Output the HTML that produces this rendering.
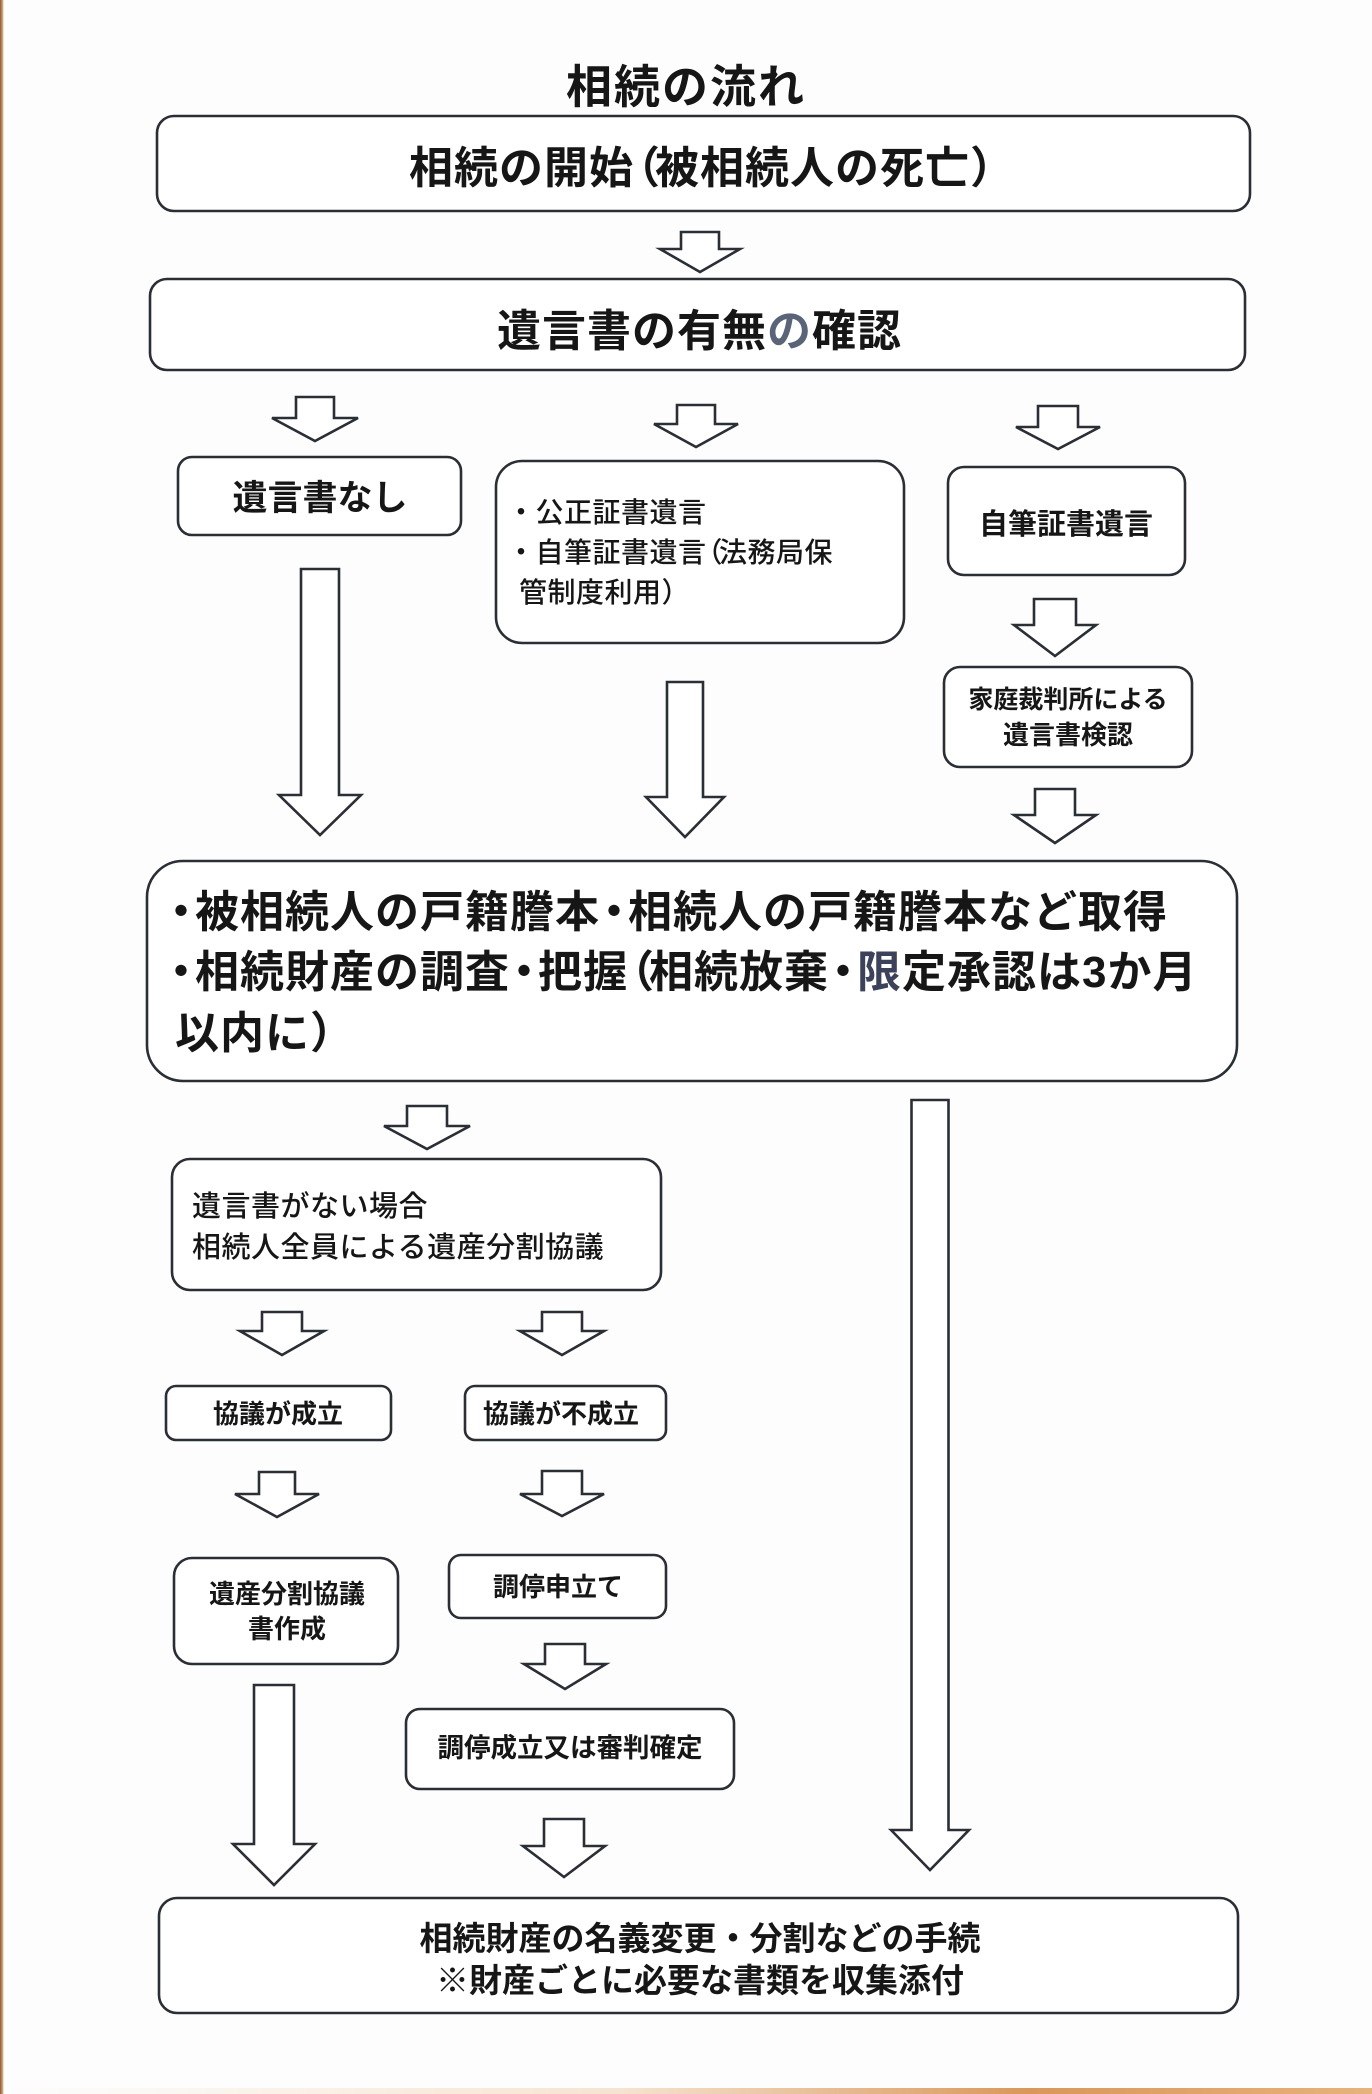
<!DOCTYPE html>
<html lang="ja">
<head>
<meta charset="utf-8">
<style>
  html,body{margin:0;padding:0;background:#fdfdfd;}
  body{width:1372px;height:2094px;position:relative;overflow:hidden;}
  svg{position:absolute;left:0;top:0;}
  .t{font-family:"Liberation Sans","Noto Sans CJK JP",sans-serif;fill:#161616;font-weight:700;}
  .m{font-weight:500;}
  .edgeL{position:absolute;left:0;top:0;width:4px;height:2094px;background:linear-gradient(to right,#8d5a32,#c89a70 60%,rgba(255,255,255,0));}
  .edgeB{position:absolute;left:0;top:2088px;width:1372px;height:6px;background:linear-gradient(to right,rgba(255,255,255,0) 0%,rgba(230,170,110,0.3) 45%,#d9975a 75%,#e7b27c 100%);}
</style>
</head>
<body>
<svg width="1372" height="2094" viewBox="0 0 1372 2094" xmlns="http://www.w3.org/2000/svg">
  <g fill="#ffffff" stroke="#2a2e35" stroke-width="2.6" stroke-linejoin="miter">
    <!-- boxes -->
    <rect x="157" y="116" width="1093" height="95" rx="17"/>
    <rect x="150" y="279" width="1095" height="91" rx="17"/>
    <rect x="178" y="457" width="283" height="78" rx="14"/>
    <rect x="496" y="461" width="408" height="182" rx="26"/>
    <rect x="948" y="467" width="237" height="108" rx="16"/>
    <rect x="944" y="667" width="248" height="100" rx="16"/>
    <rect x="147" y="861" width="1090" height="220" rx="36"/>
    <rect x="172" y="1159" width="489" height="131" rx="18"/>
    <rect x="166" y="1386" width="225" height="54" rx="10"/>
    <rect x="465" y="1386" width="201" height="54" rx="10"/>
    <rect x="174" y="1558" width="224" height="106" rx="18"/>
    <rect x="449" y="1555" width="217" height="63" rx="12"/>
    <rect x="406" y="1709" width="328" height="80" rx="14"/>
    <rect x="159" y="1898" width="1079" height="115" rx="18"/>
    <!-- arrows -->
    <polygon points="681,232 719,232 719,249 740,249 700,272 660,249 681,249"/>
    <polygon points="296,397 334,397 334,418 358,418 315,441 272,418 296,418"/>
    <polygon points="677,405 715,405 715,424 738,424 696,447 654,424 677,424"/>
    <polygon points="1038,406 1078,406 1078,427 1100,427 1058,449 1016,427 1038,427"/>
    <polygon points="1034,599 1076,599 1076,625 1096,625 1055,656 1014,625 1034,625"/>
    <polygon points="301,569 339,569 339,795 361,795 320,835 279,795 301,795"/>
    <polygon points="667,682 703,682 703,797 724,797 685,837 646,797 667,797"/>
    <polygon points="1035,789 1075,789 1075,815 1096,815 1055,843 1014,815 1035,815"/>
    <polygon points="407,1106 447,1106 447,1126 470,1126 427,1149 384,1126 407,1126"/>
    <polygon points="911.5,1100 948.5,1100 948.5,1830 969,1830 930,1870 891,1830 911.5,1830"/>
    <polygon points="262,1312 302,1312 302,1331 324,1331 282,1355 240,1331 262,1331"/>
    <polygon points="542,1312 582,1312 582,1331 604,1331 562,1355 520,1331 542,1331"/>
    <polygon points="259,1472 295,1472 295,1494 319,1494 277,1517 235,1494 259,1494"/>
    <polygon points="542,1471 582,1471 582,1494 604,1494 562,1516 520,1494 542,1494"/>
    <polygon points="545,1644 585,1644 585,1664 606,1664 565,1689 524,1664 545,1664"/>
    <polygon points="254,1685 294,1685 294,1844 315,1844 274,1885 233,1844 254,1844"/>
    <polygon points="544,1819 584,1819 584,1846 605,1846 564,1877 523,1846 544,1846"/>
  </g>

  <!-- title -->
  <text class="t" x="686" y="103" font-size="46" text-anchor="middle" letter-spacing="2">相続の流れ</text>

  <!-- box1 -->
  <text class="t" x="409" y="183" font-size="44" letter-spacing="1">相続の開始<tspan dx="-18">（</tspan><tspan dx="-6">被相続人の死亡）</tspan></text>

  <!-- box2 -->
  <text class="t" x="497" y="346" font-size="44" letter-spacing="1">遺言書の有無<tspan fill="#5a6479">の</tspan>確認</text>

  <!-- 遺言書なし -->
  <text class="t" x="320" y="510" font-size="35" text-anchor="middle">遺言書なし</text>

  <!-- middle box -->
  <text class="t m" x="507" y="522" font-size="28" letter-spacing="0.5">・公正証書遺言</text>
  <text class="t m" x="507" y="562" font-size="28" letter-spacing="0.5">・自筆証書遺言<tspan dx="-12">（</tspan><tspan dx="-4">法務局保</tspan></text>
  <text class="t m" x="519" y="602" font-size="28" letter-spacing="0.5">管制度利用）</text>

  <!-- 自筆証書遺言 -->
  <text class="t" x="1066" y="534" font-size="29" text-anchor="middle">自筆証書遺言</text>

  <!-- 検認 -->
  <text class="t" x="1068" y="708" font-size="25" text-anchor="middle">家庭裁判所による</text>
  <text class="t" x="1068" y="744" font-size="26" text-anchor="middle">遺言書検認</text>

  <!-- big box -->
  <text class="t" x="159" y="927" font-size="44" letter-spacing="1">・<tspan dx="-9">被相続人の戸籍謄本</tspan><tspan dx="-8">・</tspan><tspan dx="-9">相続人の戸籍謄本など取得</tspan></text>
  <text class="t" x="159" y="987" font-size="44" letter-spacing="1">・<tspan dx="-9">相続財産の調査</tspan><tspan dx="-8">・</tspan><tspan dx="-9">把握</tspan><tspan dx="-18">（</tspan><tspan dx="-6">相続放棄</tspan><tspan dx="-8">・</tspan><tspan dx="-9" fill="#3c4259">限</tspan>定承認は3か月</text>
  <text class="t" x="175" y="1048" font-size="44" letter-spacing="1">以内に）</text>

  <!-- 遺言書がない場合 -->
  <text class="t m" x="192" y="1216" font-size="29" letter-spacing="0.5">遺言書がない場合</text>
  <text class="t m" x="192" y="1257" font-size="29" letter-spacing="0.5">相続人全員による遺産分割協議</text>

  <!-- small boxes -->
  <text class="t" x="278" y="1423" font-size="26" text-anchor="middle">協議が成立</text>
  <text class="t" x="561" y="1423" font-size="26" text-anchor="middle">協議が不成立</text>
  <text class="t" x="287" y="1603" font-size="26" text-anchor="middle">遺産分割協議</text>
  <text class="t" x="287" y="1638" font-size="26" text-anchor="middle">書作成</text>
  <text class="t" x="558" y="1596" font-size="26" text-anchor="middle">調停申立て</text>
  <text class="t" x="570" y="1757" font-size="26.5" text-anchor="middle">調停成立又は審判確定</text>

  <!-- bottom box -->
  <text class="t" x="700" y="1950" font-size="33" text-anchor="middle">相続財産の名義変更・分割などの手続</text>
  <text class="t" x="700" y="1992" font-size="33" text-anchor="middle">※財産ごとに必要な書類を収集添付</text>
</svg>
<div class="edgeL"></div>
<div class="edgeB"></div>
</body>
</html>
